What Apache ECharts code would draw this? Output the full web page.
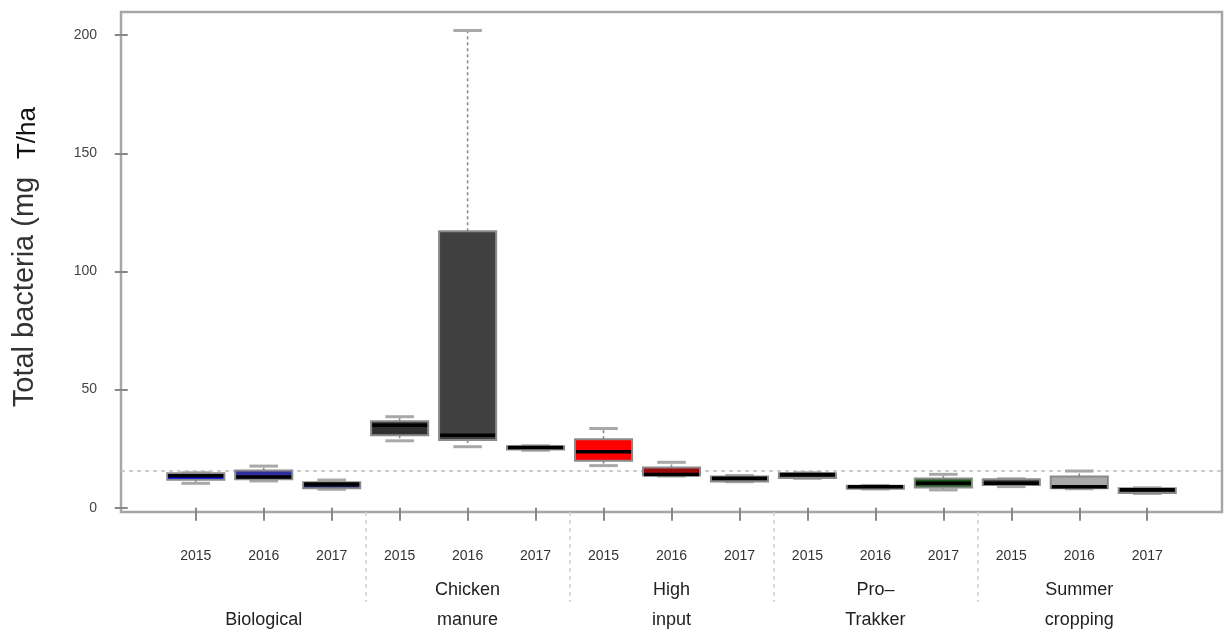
<!DOCTYPE html>
<html>
<head>
<meta charset="utf-8">
<script src="https://cdn.jsdelivr.net/npm/echarts@6/dist/echarts.min.js"></script>
<style>
html,body{margin:0;padding:0;background:#fff;}
#chart{width:1229px;height:636px;}
</style>
</head>
<body>
<div id="chart"></div>
<script>
// ---- data ----
const groups = ['Biological', 'Chicken manure', 'High input', 'Pro\u2013 Trakker', 'Summer cropping'];
const years = ['2015', '2016', '2017'];
const whiskerLow  = [10.3, 11.3, 7.8,  28.3, 25.8, 24.3, 17.8, 13.4, 11.0, 12.4, 7.9, 7.5, 8.9, 8.0, 6.0];
const q1          = [11.8, 12.0, 8.2,  30.7, 28.6, 24.6, 19.9, 13.6, 11.1, 12.6, 8.0, 8.5, 9.6, 8.2, 6.2];
const median      = [13.5, 13.0, 10.0, 34.9, 30.6, 25.5, 23.7, 14.0, 12.4, 14.0, 8.8, 10.3, 10.3, 8.9, 7.6];
const q3          = [14.6, 15.7, 10.8, 36.6, 117.0, 26.0, 29.0, 17.0, 13.2, 14.6, 9.3, 12.3, 12.0, 13.2, 8.2];
const whiskerHigh = [14.8, 17.6, 11.7, 38.5, 202.0, 26.2, 33.5, 19.2, 13.6, 14.8, 9.4, 14.1, 12.2, 15.5, 8.4];
const yTicks = [0, 50, 100, 150, 200];
const refLineValue = 15.6;

// ---- styles ----
const fills = ['#0000ee', '#2f2f9c', '#141450',
               '#303030', '#404040', '#262626',
               '#ff0000', '#9b0a0a', '#3c3c3c',
               '#222222', '#1a1a1a', '#1c5a1c',
               '#3a3a3a', '#a9a9a9', '#2a2a2a'];
const FONT = '"Liberation Sans", Arial, sans-serif';

// ---- derived ----
const n = median.length;
const positions = median.map((_, i) => i + 1);
const boxes = positions.map((p, i) => [p, whiskerLow[i], q1[i], median[i], q3[i], whiskerHigh[i]]);
const xMin = 0.5 - 0.04 * n, xMax = n + 0.5 + 0.04 * n;
const lo = Math.min(...whiskerLow), hi = Math.max(...whiskerHigh);
const yMin = lo - 0.04 * (hi - lo), yMax = hi + 0.04 * (hi - lo);
const per = years.length;
const groupCenters = groups.map((_, g) => g * per + (per + 1) / 2);
const separators = groups.slice(1).map((_, g) => (g + 1) * per + 0.5);

function twoLine(s) {
  const parts = s.split(' ');
  return parts.length > 1 ? parts.join('\n') : '\n' + s;
}

function renderBox(params, api) {
  const x = api.value(0);
  const pLo = api.coord([x, api.value(1)]);
  const pQ1 = api.coord([x, api.value(2)]);
  const pMd = api.coord([x, api.value(3)]);
  const pQ3 = api.coord([x, api.value(4)]);
  const pHi = api.coord([x, api.value(5)]);
  const unit = api.size([1, 0])[0];
  const bw = unit * 0.84, cw = bw / 2;
  const cx = pMd[0];
  const whiskStyle = {stroke: '#8a8a8a', lineWidth: 1.6, lineDash: [3, 3]};
  const capStyle = {stroke: '#a8a8a8', lineWidth: 3};
  return {
    type: 'group',
    children: [
      {type: 'line', shape: {x1: cx, y1: pQ3[1], x2: cx, y2: pHi[1]}, style: whiskStyle},
      {type: 'line', shape: {x1: cx, y1: pQ1[1], x2: cx, y2: pLo[1]}, style: whiskStyle},
      {type: 'line', shape: {x1: cx - cw / 2, y1: pHi[1], x2: cx + cw / 2, y2: pHi[1]}, style: capStyle},
      {type: 'line', shape: {x1: cx - cw / 2, y1: pLo[1], x2: cx + cw / 2, y2: pLo[1]}, style: capStyle},
      {type: 'rect', shape: {x: cx - bw / 2, y: pQ3[1], width: bw, height: pQ1[1] - pQ3[1]},
        style: {fill: fills[params.dataIndex], stroke: '#8a8a8a', lineWidth: 2}},
      {type: 'line', shape: {x1: cx - bw / 2 + 1, y1: pMd[1], x2: cx + bw / 2 - 1, y2: pMd[1]},
        style: {stroke: '#000', lineWidth: 3.5}}
    ]
  };
}

const chart = echarts.init(document.getElementById('chart'), null, {renderer: 'canvas'});
chart.setOption({
  animation: false,
  backgroundColor: '#fff',
  grid: {left: 121, right: 7, top: 12, bottom: 124, show: true, borderColor: '#a6a6a6', borderWidth: 2.5, backgroundColor: 'transparent'},
  xAxis: [
    {
      type: 'value', min: xMin, max: xMax, position: 'bottom',
      axisLine: {show: false}, splitLine: {show: false},
      axisTick: {show: true, customValues: positions, length: 13, lineStyle: {color: '#888', width: 2}},
      axisLabel: {customValues: positions, formatter: v => years[(Math.round(v) - 1) % per],
        margin: 37, fontSize: 14, color: '#333', fontFamily: FONT}
    },
    {
      type: 'value', min: xMin, max: xMax, position: 'bottom',
      axisLine: {show: false}, splitLine: {show: false},
      axisTick: {show: true, customValues: separators, length: 90,
        lineStyle: {color: '#cfcfcf', width: 1.5, type: [4, 4]}},
      axisLabel: {customValues: groupCenters,
        formatter: v => twoLine(groups[Math.round((v - (per + 1) / 2) / per)]),
        margin: 63, fontSize: 18, lineHeight: 30, color: '#222', fontFamily: FONT}
    }
  ],
  yAxis: {
    type: 'value', min: yMin, max: yMax,
    axisLine: {show: false}, splitLine: {show: false},
    axisTick: {show: true, customValues: yTicks, length: 13, lineStyle: {color: '#888', width: 2}},
    axisLabel: {customValues: yTicks, margin: 24, fontSize: 14, color: '#444', fontFamily: FONT}
  },
  graphic: [
    {type: 'text', x: 25, y: 292, rotation: Math.PI / 2,
      style: {text: 'Total bacteria (mg', font: '29px ' + FONT, fill: '#333', align: 'center', verticalAlign: 'middle'}},
    {type: 'text', x: 28, y: 133, rotation: Math.PI / 2,
      style: {text: 'T/ha', font: '26px ' + FONT, fill: '#111', align: 'center', verticalAlign: 'middle'}}
  ],
  series: [{
    type: 'custom',
    xAxisIndex: 0,
    z: 4,
    renderItem: renderBox,
    encode: {x: 0, y: [1, 2, 3, 4, 5]},
    data: boxes,
    clip: false,
    markLine: {
      z: 1,
      silent: true, symbol: 'none', label: {show: false},
      lineStyle: {color: '#bdbdbd', width: 1.5, type: [4, 4]},
      data: [{yAxis: refLineValue}]
    }
  }]
});
</script>
</body>
</html>
